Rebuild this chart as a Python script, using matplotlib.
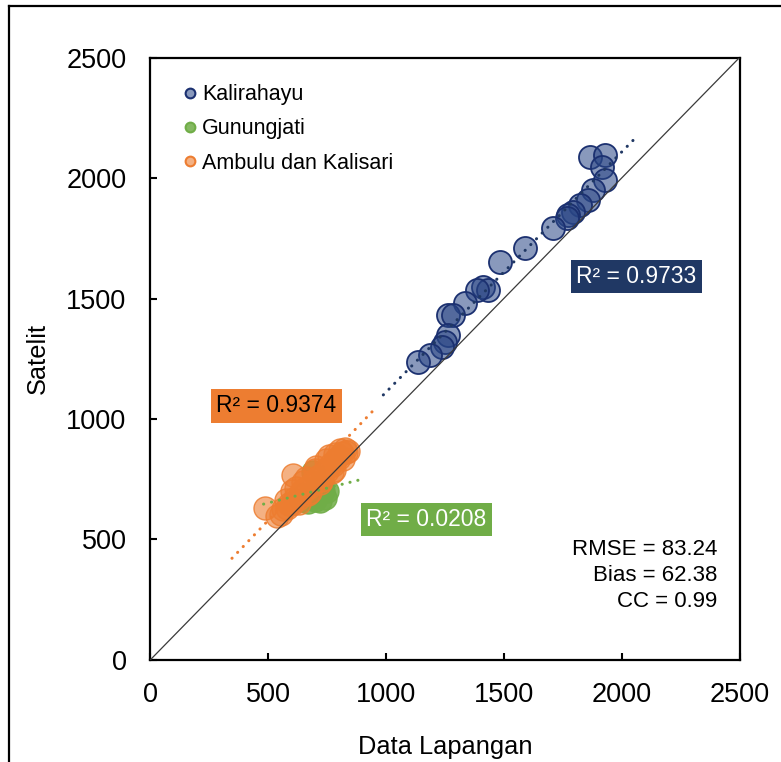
import matplotlib
matplotlib.use("Agg")
import matplotlib.pyplot as plt
from matplotlib.lines import Line2D
import numpy as np

plt.rcParams['font.family'] = ['Liberation Sans', 'DejaVu Sans']

# ---------------- data ----------------
kal_x = [1866, 1930, 1917, 1930, 1879, 1857, 1823, 1794, 1773, 1768, 1709, 1590,
         1484, 1412, 1433, 1387, 1336, 1264, 1285, 1264, 1251, 1238, 1187, 1136]
kal_y = [2087, 2095, 2046, 1992, 1950, 1909, 1888, 1859, 1846, 1834, 1793, 1710,
         1651, 1548, 1535, 1535, 1481, 1432, 1432, 1349, 1320, 1299, 1266, 1237]

gun_x = [640, 670, 700, 720, 740, 735, 710, 680, 690, 655, 725, 750]
gun_y = [665, 655, 662, 660, 672, 700, 690, 700, 780, 690, 720, 700]

amb_x = [487, 606, 540, 555, 565, 580, 590, 600, 615, 625, 640, 650, 660, 675,
         690, 700, 715, 725, 740, 750, 765, 775, 790, 800, 815, 830, 840,
         600, 650, 700, 760, 805, 770, 720, 670,
         575, 620, 660, 705, 745, 785, 825, 630, 680, 730, 780, 820]
amb_y = [631, 768, 598, 605, 625, 630, 648, 648, 672, 670, 695, 695, 715, 718,
         742, 740, 765, 762, 788, 785, 812, 810, 835, 840, 860, 862, 868,
         700, 740, 790, 845, 870, 780, 735, 690,
         665, 712, 755, 800, 830, 855, 875, 650, 695, 745, 790, 835]

series_names = ["Kalirahayu", "Gunungjati", "Ambulu dan Kalisari"]

# linear trendlines (slope, intercept) and their drawn x-range
kal_fit = [0.997, 114]
kal_fit_range = [989, 2062]
gun_fit = [0.247, 528]
gun_fit_range = [481, 898]
amb_fit = [1.023, 67]
amb_fit_range = [347, 962]

r2_labels = ["R² = 0.9733", "R² = 0.0208", "R² = 0.9374"]
stats_lines = ["RMSE = 83.24", "Bias = 62.38", "CC = 0.99"]

ticks = [0, 500, 1000, 1500, 2000, 2500]

# ---------------- styling ----------------
navy = "#203864"
navy_face = (0.16, 0.27, 0.52, 0.55)
navy_edge = "#1B3070"
green = "#70AD47"
green_face = (0.44, 0.68, 0.28, 0.85)
orange = "#ED7D31"
orange_face = (0.93, 0.49, 0.19, 0.6)
orange_edge = (0.93, 0.49, 0.19, 0.85)

fig = plt.figure(figsize=(7.81, 7.62), dpi=100)
ax = fig.add_axes([0.1923, 0.1339, 0.7546, 0.7906])

S = 275
ax.scatter(kal_x, kal_y, s=S, facecolor=navy_face, edgecolor=navy_edge, linewidth=1.3, zorder=3)
ax.scatter(gun_x, gun_y, s=S, facecolor=green_face, edgecolor=(0.44, 0.68, 0.28, 0.9), linewidth=1.0, zorder=3)
ax.scatter(amb_x, amb_y, s=S, facecolor=orange_face, edgecolor=orange_edge, linewidth=1.0, zorder=4)

dot = (0, (0.05, 2.6))
def trend(fit, rng, color, z):
    xx = np.array(rng, dtype=float)
    ax.plot(xx, fit[0] * xx + fit[1], color=color, lw=2.2, linestyle=dot,
            dash_capstyle='round', zorder=z)

trend(kal_fit, kal_fit_range, navy, 5)
trend(amb_fit, amb_fit_range, orange, 5)
trend(gun_fit, gun_fit_range, green, 6)

# 1:1 line
ax.plot([ticks[0], ticks[-1]], [ticks[0], ticks[-1]], color="#3a3a3a", lw=0.9, zorder=7)

ax.set_xlim(ticks[0], ticks[-1])
ax.set_ylim(ticks[0], ticks[-1])
ax.set_xticks(ticks)
ax.set_yticks(ticks)
ax.set_xticklabels([str(t) for t in ticks])
ax.set_yticklabels([str(t) for t in ticks])
ax.tick_params(axis='both', direction='in', length=5, width=1.5, labelsize=19.5, colors='black')
ax.tick_params(axis='x', pad=16)
ax.tick_params(axis='y', pad=17)
for sp in ax.spines.values():
    sp.set_linewidth(1.6)
    sp.set_color('black')

ax.set_xlabel("Data Lapangan", fontsize=18.3, labelpad=19)
ax.set_ylabel("Satelit", fontsize=18.3, labelpad=12)

# R² boxes
ax.text(2063, 1593, r2_labels[0], fontsize=16.5, color='white', ha='center', va='center',
        bbox=dict(boxstyle='square,pad=0.22', fc=navy, ec='none'), zorder=8)
ax.text(1172, 583, r2_labels[1], fontsize=16.5, color='white', ha='center', va='center',
        bbox=dict(boxstyle='square,pad=0.22', fc=green, ec='none'), zorder=8)
ax.text(536, 1054, r2_labels[2], fontsize=16.5, color='black', ha='center', va='center',
        bbox=dict(boxstyle='square,pad=0.22', fc=orange, ec='none'), zorder=8)

# stats
for line, yy in zip(stats_lines, [0.1826, 0.1394, 0.0963]):
    ax.text(0.9618, yy, line, transform=ax.transAxes, fontsize=16, ha='right', va='center')

# legend
handles = [
    Line2D([], [], marker='o', linestyle='none', markersize=7, markerfacecolor=navy_face,
           markeredgecolor=navy_edge, markeredgewidth=1.5),
    Line2D([], [], marker='o', linestyle='none', markersize=7, markerfacecolor=green_face,
           markeredgecolor=green, markeredgewidth=1.5),
    Line2D([], [], marker='o', linestyle='none', markersize=7, markerfacecolor=orange_face,
           markeredgecolor=orange, markeredgewidth=1.5),
]
ax.legend(handles, series_names, loc='upper left', bbox_to_anchor=(0.057, 0.956),
          frameon=False, fontsize=15.5, handlelength=0.6, handletextpad=0.25,
          labelspacing=0.62, borderaxespad=0, borderpad=0)

# outer frame (left and top edges)
fig.add_artist(Line2D([9 / 781, 9 / 781], [0, 1 - 6 / 762], transform=fig.transFigure,
                      color='black', lw=1.6))
fig.add_artist(Line2D([9 / 781, 1], [1 - 6 / 762, 1 - 6 / 762], transform=fig.transFigure,
                      color='black', lw=1.6))

fig.savefig("out.png", dpi=100)
